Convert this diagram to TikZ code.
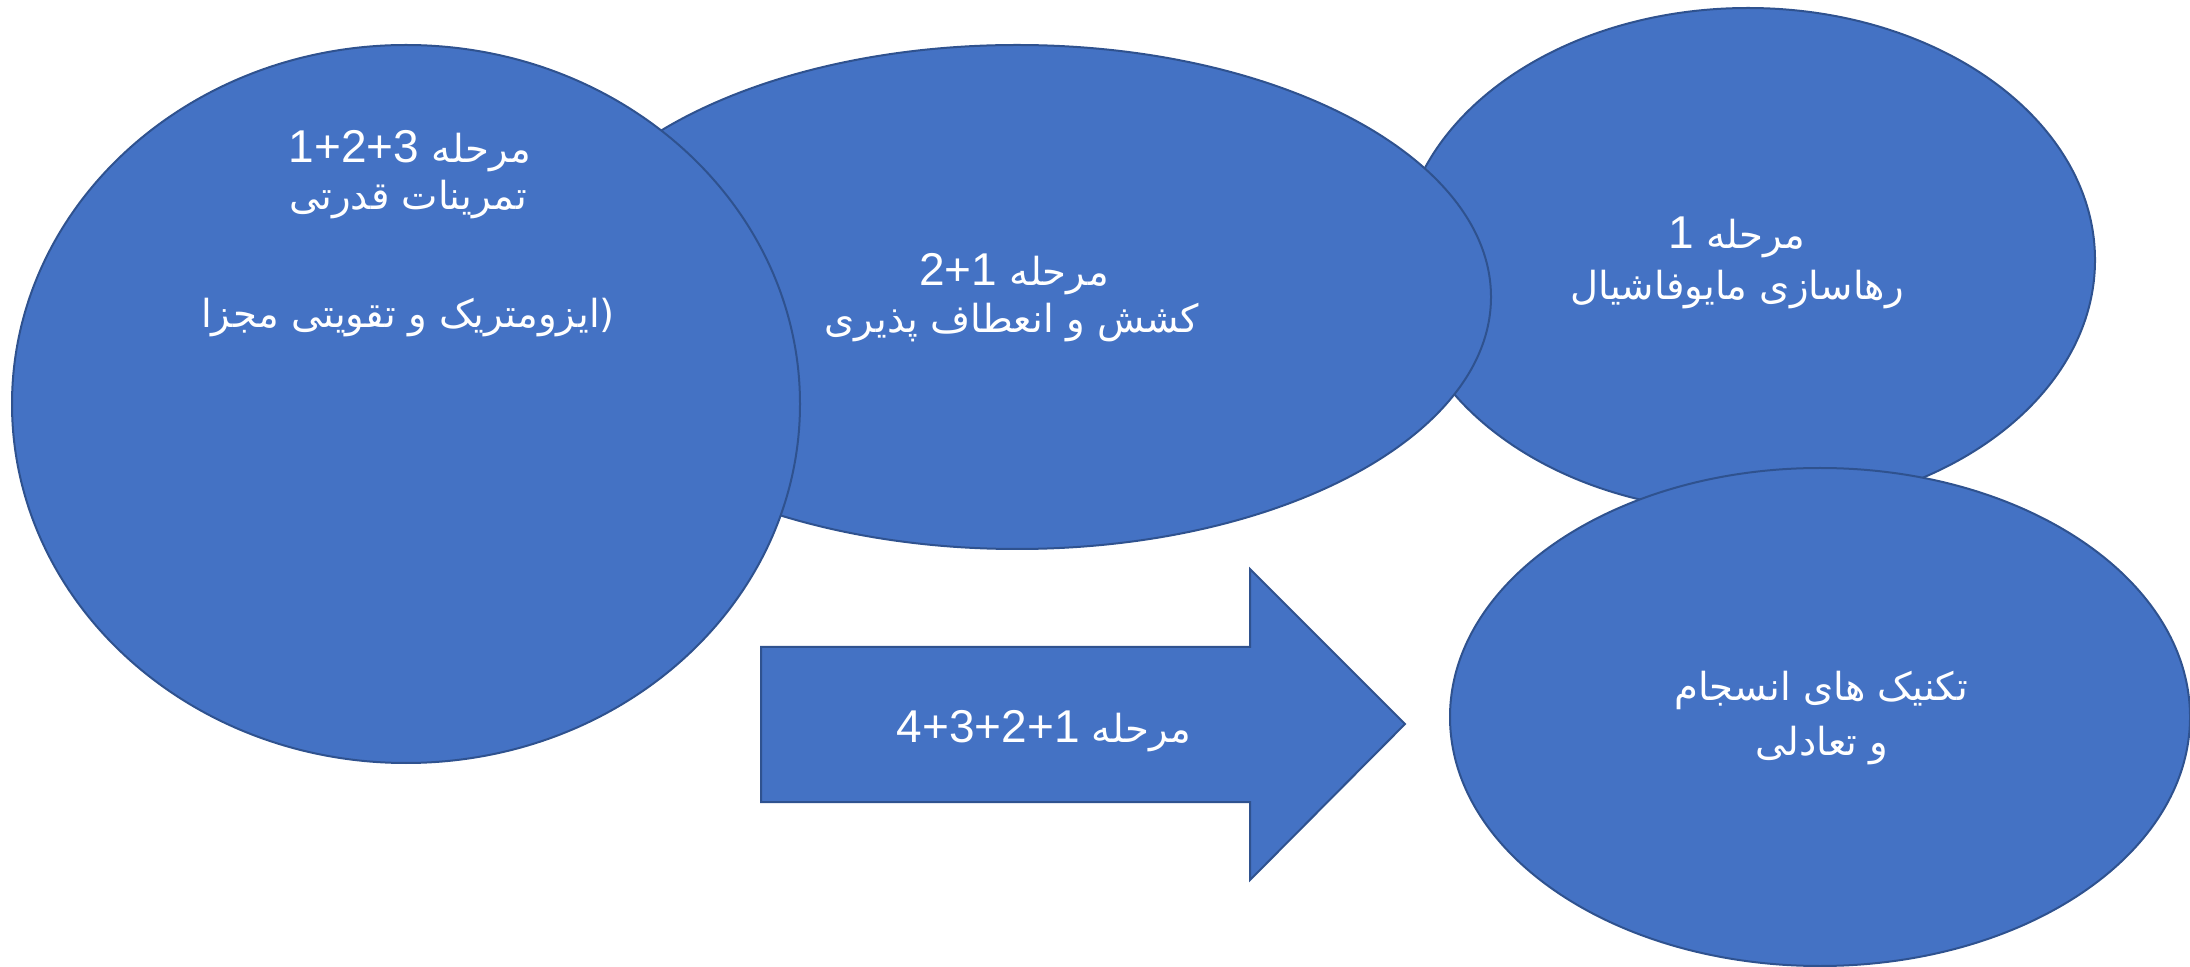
\documentclass[tikz,border=0pt]{standalone}
\usepackage{fontspec}
\setmainfont{Liberation Sans}
\newfontfamily\latinfont{Liberation Sans}
\newfontfamily\arabicfont[Script=Arabic,Scale=0.84]{DejaVu Sans}
\TeXXeTstate=1
\usetikzlibrary{shapes.geometric}
\definecolor{fillblue}{HTML}{4472C4}
\definecolor{edgeblue}{HTML}{2F528F}
\newcommand{\myrtl}[1]{\beginR #1\endR}
\newcommand{\mynum}[1]{\beginL{\latinfont #1}\endL{}}
\tikzset{
  blob/.style={ellipse, fill=fillblue, draw=edgeblue, line width=1pt, inner sep=0pt},
  shapefill/.style={fill=fillblue, draw=edgeblue, line width=1pt},
  lbl/.style={text=white, anchor=base, inner sep=0pt, font=\fontsize{23}{28}\selectfont\arabicfont}
}
\begin{document}
\begin{tikzpicture}[x=0.5pt,y=-0.5pt]
\useasboundingbox (0,0) rectangle (2190,967);
% ellipses, back to front
\node[blob, minimum width=347pt, minimum height=252pt] (e1) at (1748,260) {};
\node[blob, minimum width=474pt, minimum height=252pt] (e2) at (1017,297) {};
\node[blob, minimum width=394pt, minimum height=359pt] (e3) at (406,404) {};
\node[blob, minimum width=370pt, minimum height=249pt] (e4) at (1820,717) {};
% arrow
\coordinate (atl) at (761,647);
\coordinate (atip) at (1405,724);
\draw[shapefill] (atl) -- (1250,647) -- (1250,569) -- (atip) -- (1250,880) -- (1250,802) -- (761,802) -- cycle;
% texts
\node[lbl] (t1a) at (1737,249) {\myrtl{مرحله \mynum{1}}};
\node[lbl] (t1b) at (1737,300) {\myrtl{رهاسازی مایوفاشیال}};
\node[lbl] (t2a) at (1014,286) {\myrtl{مرحله \mynum{2+1}}};
\node[lbl] (t2b) at (1012,333) {\myrtl{کشش و انعطاف پذیری}};
\node[lbl] (t3a) at (410,163) {\myrtl{مرحله \mynum{1+2+3}}};
\node[lbl] (t3b) at (408,210) {\myrtl{تمرینات قدرتی}};
\node[lbl] (t3c) at (408,328) {\myrtl{(ایزومتریک و تقویتی مجزا}};
\node[lbl] (t4a) at (1821,700) {\myrtl{تکنیک های انسجام}};
\node[lbl] (t4b) at (1822,755) {\myrtl{و تعادلی}};
\node[lbl] (ta) at (1044,742) {\myrtl{مرحله \mynum{4+3+2+1}}};
\end{tikzpicture}
\end{document}
